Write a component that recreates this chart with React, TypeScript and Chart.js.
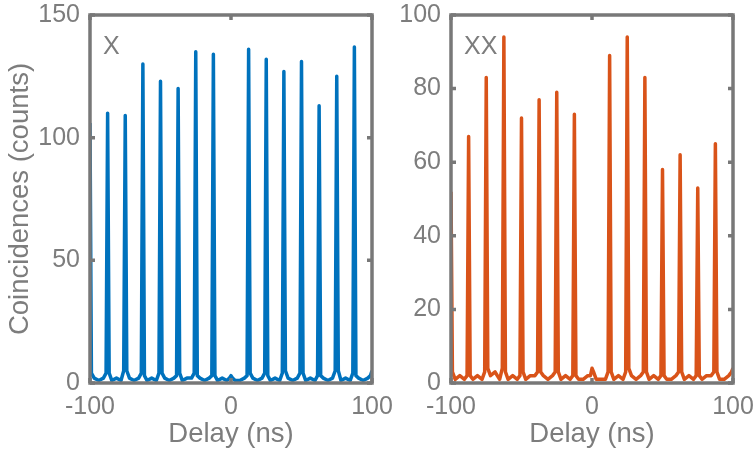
import React, { useEffect, useRef } from "react";
import { Chart, registerables } from "chart.js";

Chart.register(...registerables);

// Delay axis sample positions (ns)
const delays = [
  -100, -99, -97, -93.75, -90.5, -88.6,
  -87.5, -86.4, -84.5, -81.25, -78, -76.1,
  -75, -73.9, -72, -68.75, -65.5, -63.6,
  -62.5, -61.4, -59.5, -56.25, -53, -51.1,
  -50, -48.9, -47, -43.75, -40.5, -38.6,
  -37.5, -36.4, -34.5, -31.25, -28, -26.1,
  -25, -23.9, -22, -18.75, -15.5, -13.6,
  -12.5, -11.4, -9.5, -6.25, -3, -1.1,
  0, 1.1, 3, 6.25, 9.5, 11.4,
  12.5, 13.6, 15.5, 18.75, 22, 23.9,
  25, 26.1, 28, 31.25, 34.5, 36.4,
  37.5, 38.6, 40.5, 43.75, 47, 48.9,
  50, 51.1, 53, 56.25, 59.5, 61.4,
  62.5, 63.6, 65.5, 68.75, 72, 73.9,
  75, 76.1, 78, 81.25, 84.5, 86.4,
  87.5, 88.6, 90.5, 93.75, 97, 98.9,
  100,
];

// X exciton coincidences (counts)
const xCounts = [
  106, 4, 2, 1, 2, 4,
  110, 4, 1, 2, 1, 5,
  109, 5, 2, 1, 2, 4,
  130, 3, 1, 2, 1, 4,
  123, 4, 2, 1, 2, 3,
  120, 4, 1, 2, 2, 4,
  135, 3, 2, 1, 2, 3,
  134, 3, 1, 2, 1, 2,
  3, 2, 1, 1, 2, 3,
  136, 4, 2, 1, 2, 4,
  132, 3, 1, 2, 1, 4,
  127, 5, 2, 1, 2, 4,
  131, 4, 1, 2, 1, 3,
  113, 3, 2, 1, 2, 5,
  125, 5, 1, 2, 1, 4,
  137, 3, 2, 1, 2, 3,
  5,
];

// XX biexciton coincidences (counts)
const xxCounts = [
  52, 3, 1, 2, 1, 2,
  67, 2, 1, 2, 1, 3,
  83, 4, 2, 3, 1, 4,
  94, 3, 1, 2, 1, 2,
  72, 3, 1, 2, 2, 3,
  77, 3, 2, 1, 2, 3,
  79, 3, 1, 2, 1, 2,
  73, 2, 1, 1, 2, 2,
  4, 3, 1, 1, 1, 3,
  89, 3, 1, 2, 1, 3,
  94, 4, 2, 1, 2, 3,
  83, 3, 1, 2, 1, 2,
  58, 2, 1, 1, 2, 3,
  62, 3, 1, 2, 1, 2,
  53, 2, 1, 2, 2, 3,
  65, 3, 1, 1, 2, 3,
  4,
];

const xTickValues = [-100, 0, 100];
const leftYMax = 150;
const leftYStep = 50;
const rightYMax = 100;
const rightYStep = 20;

const AXIS_COLOR = "#787878";
const TEXT_COLOR = "#7d7d7d";
const FONT_FAMILY = "'Liberation Sans', Arial, Helvetica, sans-serif";
const TICK_SIZE = 25;
const TITLE_SIZE = 27.5;

const boxPlugin = {
  id: "matlabBox",
  afterDatasetsDraw(chart: any, _args: any, opts: any) {
    const { ctx, chartArea, scales } = chart;
    const { left, right, top, bottom } = chartArea;
    ctx.save();
    ctx.strokeStyle = AXIS_COLOR;
    ctx.lineWidth = 3.5;
    ctx.strokeRect(left, top, right - left, bottom - top);
    const tl = 5;
    ctx.beginPath();
    scales.y.ticks.forEach((t: any) => {
      const py = scales.y.getPixelForValue(t.value);
      ctx.moveTo(left, py);
      ctx.lineTo(left + tl, py);
      ctx.moveTo(right, py);
      ctx.lineTo(right - tl, py);
    });
    scales.x.ticks.forEach((t: any) => {
      const px = scales.x.getPixelForValue(t.value);
      ctx.moveTo(px, bottom);
      ctx.lineTo(px, bottom - tl);
      ctx.moveTo(px, top);
      ctx.lineTo(px, top + tl);
    });
    ctx.stroke();
    if (opts && opts.label) {
      ctx.fillStyle = TEXT_COLOR;
      ctx.font = `${TICK_SIZE}px ${FONT_FAMILY}`;
      ctx.textBaseline = "top";
      ctx.textAlign = "left";
      ctx.fillText(opts.label, left + 13, top + 20);
    }
    ctx.restore();
  },
};

function makeConfig(
  counts: number[],
  color: string,
  yMax: number,
  yStep: number,
  yWidth: number,
  yTitle: string | null,
  label: string,
  padRight: number
): any {
  return {
    type: "line",
    data: {
      datasets: [
        {
          data: delays.map((d, i) => ({ x: d, y: counts[i] })),
          borderColor: color,
          borderWidth: 3.5,
          pointRadius: 0,
          tension: 0,
          borderJoinStyle: "round",
          fill: false,
        },
      ],
    },
    options: {
      responsive: false,
      animation: false,
      layout: { padding: { left: 0, right: padRight, top: 15, bottom: 0 } },
      plugins: {
        legend: { display: false },
        tooltip: { enabled: false },
        matlabBox: { label },
      },
      scales: {
        x: {
          type: "linear",
          min: -100,
          max: 100,
          afterBuildTicks: (scale: any) => {
            scale.ticks = xTickValues.map((v) => ({ value: v }));
          },
          grid: { display: false, drawTicks: false },
          border: { display: false },
          ticks: {
            color: TEXT_COLOR,
            font: { family: FONT_FAMILY, size: TICK_SIZE },
            padding: 9,
            maxRotation: 0,
          },
          title: {
            display: true,
            text: "Delay (ns)",
            color: TEXT_COLOR,
            font: { family: FONT_FAMILY, size: TITLE_SIZE },
            padding: { top: 0, bottom: 10 },
          },
          afterFit: (scale: any) => {
            scale.height = 78;
            scale.paddingLeft = 0;
            scale.paddingRight = 0;
          },
        },
        y: {
          type: "linear",
          min: 0,
          max: yMax,
          ticks: {
            stepSize: yStep,
            color: TEXT_COLOR,
            font: { family: FONT_FAMILY, size: TICK_SIZE },
            padding: 10,
          },
          grid: { display: false, drawTicks: false },
          border: { display: false },
          title: {
            display: !!yTitle,
            text: yTitle || "",
            color: TEXT_COLOR,
            font: { family: FONT_FAMILY, size: TITLE_SIZE },
            padding: { top: 4, bottom: 0 },
          },
          afterFit: (scale: any) => {
            scale.width = yWidth;
            scale.paddingTop = 0;
            scale.paddingBottom = 0;
          },
        },
      },
    },
    plugins: [boxPlugin],
  };
}

export default function App() {
  const leftRef = useRef<HTMLCanvasElement>(null);
  const rightRef = useRef<HTMLCanvasElement>(null);

  useEffect(() => {
    const c1 = new Chart(
      leftRef.current as HTMLCanvasElement,
      makeConfig(xCounts, "#0072BD", leftYMax, leftYStep, 90, "Coincidences (counts)", "X", 28)
    );
    const c2 = new Chart(
      rightRef.current as HTMLCanvasElement,
      makeConfig(xxCounts, "#D95319", rightYMax, rightYStep, 81, null, "XX", 23)
    );
    return () => {
      c1.destroy();
      c2.destroy();
    };
  }, []);

  return (
    <div
      style={{
        position: "absolute",
        left: 0,
        top: 0,
        width: 756,
        height: 461,
        overflow: "hidden",
        background: "#fff",
      }}
    >
      <canvas
        ref={leftRef}
        width={400}
        height={461}
        style={{ position: "absolute", left: 0, top: 0 }}
      />
      <canvas
        ref={rightRef}
        width={386}
        height={461}
        style={{ position: "absolute", left: 370, top: 0 }}
      />
    </div>
  );
}
